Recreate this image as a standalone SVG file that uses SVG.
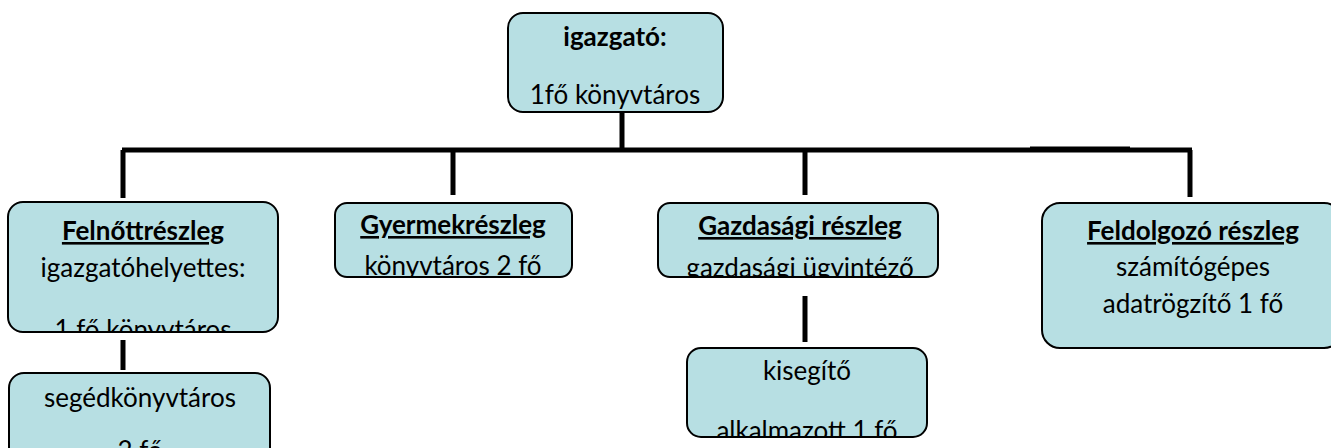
<svg xmlns="http://www.w3.org/2000/svg" width="1331" height="448" viewBox="0 0 1331 448">
<style>
.box{fill:#b7dfe3;stroke:#000;stroke-width:2}
.t{font-family:Lato,"Liberation Sans",sans-serif;font-size:26px;fill:#000;text-anchor:middle}
.b{font-weight:bold}
.u{text-decoration:underline}
.c{stroke:#000;stroke-width:5;fill:none}
</style>
<defs>
<clipPath id="c0"><rect x="508" y="13" width="215" height="99" rx="15"/></clipPath>
<clipPath id="c1"><rect x="8" y="202" width="270" height="130" rx="15"/></clipPath>
<clipPath id="c2"><rect x="335" y="203" width="237" height="74" rx="12"/></clipPath>
<clipPath id="c3"><rect x="658" y="203" width="280" height="74" rx="12"/></clipPath>
<clipPath id="c4"><rect x="1042" y="203" width="300" height="145" rx="18"/></clipPath>
<clipPath id="c5"><rect x="9" y="373" width="261" height="90" rx="15"/></clipPath>
<clipPath id="c6"><rect x="687" y="348" width="240" height="89" rx="14"/></clipPath>
</defs>
<g id="connectors">
<path class="c" d="M622 105V150"/>
<path class="c" d="M122 150H1192"/>
<path class="c" d="M1030 149H1130" stroke-width="6"/>
<path class="c" d="M123 150V198"/>
<path class="c" d="M453 150V195"/>
<path class="c" d="M805 150V195"/>
<path class="c" d="M1190 150V197"/>
<path class="c" d="M123 340V370"/>
<path class="c" d="M805 296V342"/>
</g>
<g id="igazgato">
<rect class="box" x="508" y="13" width="215" height="99" rx="15"/>
<g clip-path="url(#c0)">
<text class="t b" x="615" y="46">igazgató:</text>
<text class="t" x="615" y="104">1fő könyvtáros</text>
</g>
</g>
<g id="felnott">
<rect class="box" x="8" y="202" width="270" height="130" rx="15"/>
<g clip-path="url(#c1)">
<text class="t b u" x="143" y="240">Felnőttrészleg</text>
<text class="t" x="143" y="277">igazgatóhelyettes:</text>
<text class="t" x="143" y="339">1 fő könyvtáros</text>
</g>
</g>
<g id="gyermek">
<rect class="box" x="335" y="203" width="237" height="74" rx="12"/>
<g clip-path="url(#c2)">
<text class="t b u" x="453" y="234">Gyermekrészleg</text>
<text class="t" x="453" y="275">könyvtáros 2 fő</text>
</g>
</g>
<g id="gazdasagi">
<rect class="box" x="658" y="203" width="280" height="74" rx="12"/>
<g clip-path="url(#c3)">
<text class="t b u" x="800" y="235">Gazdasági részleg</text>
<text class="t" x="800" y="277">gazdasági ügyintéző</text>
</g>
</g>
<g id="feldolgozo">
<rect class="box" x="1042" y="203" width="300" height="145" rx="18"/>
<g clip-path="url(#c4)">
<text class="t b u" x="1193" y="240">Feldolgozó részleg</text>
<text class="t" x="1193" y="276">számítógépes</text>
<text class="t" x="1193" y="313">adatrögzítő 1 fő</text>
</g>
</g>
<g id="seged">
<rect class="box" x="9" y="373" width="261" height="90" rx="15"/>
<g clip-path="url(#c5)">
<text class="t" x="140" y="407">segédkönyvtáros</text>
<text class="t" x="140" y="460">2 fő</text>
</g>
</g>
<g id="kisegito">
<rect class="box" x="687" y="348" width="240" height="89" rx="14"/>
<g clip-path="url(#c6)">
<text class="t" x="807" y="380">kisegítő</text>
<text class="t" x="807" y="440">alkalmazott 1 fő</text>
</g>
</g>
</svg>
